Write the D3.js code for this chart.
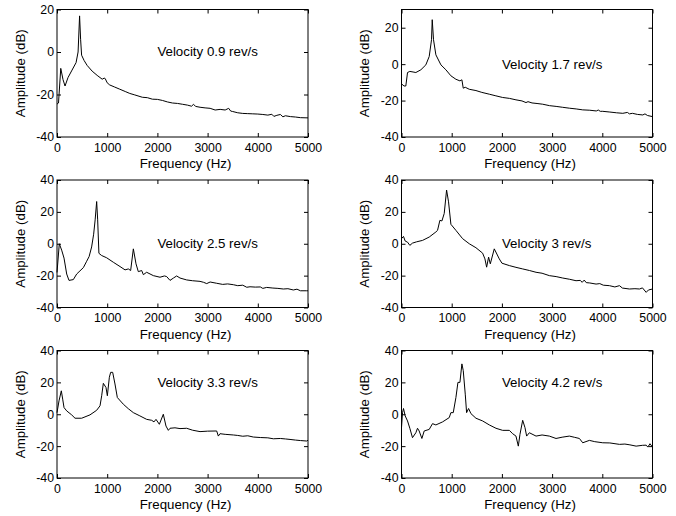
<!DOCTYPE html>
<html><head><meta charset="utf-8">
<script src="https://cdn.jsdelivr.net/npm/d3@7"></script>
<style>
html,body{margin:0;padding:0;background:#fff;}
svg{display:block;font-family:"Liberation Sans",Arial,Helvetica,sans-serif;}
</style></head>
<body><svg id="c" width="676" height="516"></svg>
<script>
// ---- data ----
const titles = ["Velocity 0.9 rev/s","Velocity 1.7 rev/s","Velocity 2.5 rev/s","Velocity 3 rev/s","Velocity 3.3 rev/s","Velocity 4.2 rev/s"];
const labelPosF = [2000, 2000, 2000, 2000, 2000, 2000];
const labelPosA = [0, 0, 0, 0, 20, 20];
const yDomains = [[-40,20],[-40,30],[-40,40],[-40,40],[-40,40],[-40,40]];
const yTicks = [[-40,-20,0,20],[-40,-20,0,20],[-40,-20,0,20,40],[-40,-20,0,20,40],[-40,-20,0,20,40],[-40,-20,0,20,40]];
const xTicks = [0,1000,2000,3000,4000,5000];
const xLabel = "Frequency (Hz)";
const yLabel = "Amplitude (dB)";

const f1 = [0,30,75,120,160,220,300,380,420,450,470,490,540,600,700,800,900,940,960,1000,1050,1150,1250,1370,1450,1550,1700,1800,1900,2000,2100,2200,2300,2400,2500,2600,2680,2720,2760,2850,2950,3050,3150,3250,3350,3420,3460,3500,3600,3700,3800,3900,4000,4100,4200,4280,4320,4380,4450,4500,4550,4650,4750,4850,5000];
const a1 = [-24.5,-24,-7.7,-13,-16,-12,-8.5,-5,0,17,6,-1.5,-4,-6.3,-9,-11,-12.8,-12.3,-12.5,-14.5,-15.5,-16.5,-17.5,-18.7,-19.5,-20.2,-21.3,-21.5,-22.2,-22.3,-22.8,-23.5,-24,-24.2,-24.6,-25,-25.5,-24.6,-25.6,-26,-26.3,-26.5,-27.3,-27,-27.3,-26.5,-27.8,-28,-28.6,-28.9,-29,-29.1,-29.2,-29.4,-29.7,-29.3,-30.3,-29.8,-29.4,-30.5,-30,-30.4,-30.6,-30.9,-31];

const f2 = [0,50,86,120,166,230,286,386,485,552,598,612,638,685,785,884,984,1084,1164,1203,1230,1270,1350,1483,1600,1749,1880,2015,2150,2280,2400,2480,2520,2600,2700,2812,2950,3080,3211,3350,3480,3610,3750,3880,3920,3960,4009,4150,4280,4408,4500,4540,4600,4700,4807,4850,4900,5000];
const a2 = [-10.8,-12,-12,-4.6,-4,-4.3,-4.6,-3.1,-0.4,4.2,13.4,24.4,13.4,5.1,-0.4,-3.1,-6.4,-8.3,-9.2,-8.6,-13.2,-12.7,-13.8,-14.5,-15.5,-16.5,-17.4,-18.3,-18.8,-19.6,-20.2,-21.1,-20.6,-21.3,-21.6,-22,-22.8,-23.2,-23.7,-24.2,-24.6,-25.1,-25.3,-25.7,-25.2,-25.9,-25.9,-26.3,-26.7,-27,-26.5,-27.3,-27,-27.6,-27.9,-27.3,-28.2,-28.8];

const f3 = [0,46,93,140,193,239,325,392,458,525,591,640,690,730,760,790,810,835,890,989,1122,1255,1355,1421,1467,1521,1574,1620,1687,1720,1786,1919,2052,2140,2185,2251,2320,2384,2450,2583,2700,2849,2920,2982,3050,3181,3300,3400,3513,3600,3700,3780,3845,3950,4050,4100,4177,4300,4400,4509,4600,4708,4780,4850,4973,5000];
const a3 = [-18,0,-4,-9,-19,-23,-22.5,-19,-17,-15,-11,-8,-2,6,15,26.5,15,-6,-7.4,-8.8,-11.6,-14.3,-16.4,-15.8,-16.8,-3.2,-12.6,-17.5,-16.8,-19.4,-17.9,-20,-21,-20.2,-20.6,-23,-21.5,-20.2,-21.5,-22.7,-23.2,-23.6,-24.2,-25,-24,-24.8,-25.5,-25.2,-25.7,-26.3,-26,-27.3,-27,-27.2,-27.1,-28,-27.4,-27.8,-28,-28.4,-28.2,-29,-28.5,-29.5,-29.5,-29.5];

const f4 = [0,40,73,120,166,219,300,419,552,685,718,765,805,851,898,937,984,1084,1217,1350,1483,1616,1662,1696,1735,1769,1848,1948,2001,2148,2280,2414,2550,2680,2800,2945,3080,3211,3350,3477,3560,3600,3640,3680,3750,3876,3950,4020,4142,4250,4342,4400,4541,4650,4741,4800,4874,4920,5000];
const a4 = [3.2,4.6,1.7,1,-1,0.4,1.2,2.1,4.2,7.4,8.4,14.7,14.3,19,33.7,26.3,12.2,8.4,3.2,0,-2.5,-5.9,-9.5,-14.7,-8.4,-12.6,-3.2,-9.5,-12.2,-13.7,-14.8,-15.8,-16.8,-17.9,-18.5,-20,-20.6,-21.5,-22.3,-23.2,-23,-24.2,-22.8,-24.4,-24.6,-25.3,-25,-26,-26.3,-27.1,-26.3,-27.8,-28.4,-28.2,-28.4,-27.7,-30.5,-29,-28.4];

const f5 = [0,40,86,113,140,193,292,359,491,657,790,857,890,923,976,1003,1043,1069,1109,1155,1202,1321,1420,1521,1650,1786,1886,1932,1972,2039,2118,2171,2218,2251,2350,2450,2583,2700,2849,3000,3181,3214,3247,3350,3513,3600,3700,3800,3911,4050,4200,4310,4450,4550,4642,4750,4850,4973,5000];
const a5 = [1,8.4,14.7,9.5,4.2,2.1,-0.4,-2.5,-2.5,-0.4,2.5,5.3,11.6,19.4,16.8,11.6,23.2,26.3,26.3,19,10.5,6.3,3.5,1,-1,-3.2,-3.8,-4.8,-3.2,-6.3,0,-7.4,-10.1,-8.8,-8.5,-9,-8.8,-10,-10.9,-10.6,-10.5,-13.7,-12.2,-12.6,-13,-13.3,-13.8,-13.5,-14.3,-14.6,-14.8,-15.4,-15.2,-15.5,-15.8,-16.2,-16.5,-16.8,-16.3];

const f6 = [0,20,40,73,120,166,219,286,319,352,406,452,552,618,685,818,951,984,1031,1084,1124,1164,1203,1230,1270,1297,1336,1383,1483,1616,1749,1882,2015,2148,2214,2280,2327,2360,2414,2460,2493,2547,2680,2800,2945,3078,3200,3344,3450,3544,3610,3743,3850,4009,4150,4342,4450,4550,4674,4800,4874,4907,4950,5000];
const a6 = [-8.4,1,3.6,-1,-4.2,-8.8,-14.7,-11.6,-8.8,-10.5,-15.2,-10.5,-9.5,-5.9,-6.7,-4.8,-2.1,1,1,10.5,20,20,31.6,27.4,12.6,1,3.6,0.4,-2.5,-4.2,-6.7,-8.8,-10.1,-10.1,-12.2,-13.7,-20,-12.6,-3.8,-8.4,-13.7,-11.6,-13.7,-13,-13.7,-15.2,-14.4,-13.7,-14.5,-15.2,-17.9,-16.4,-17.2,-17.9,-18,-18.9,-18.7,-19.2,-20,-19.5,-19.4,-20.6,-18.5,-20.6];

const freqs = [f1,f2,f3,f4,f5,f6];
const amps = [a1,a2,a3,a4,a5,a6];

// ---- layout ----
const colLeft = [57, 401.5];
const rowTop = [9.5, 180, 350.5];
const PW = 251, PH = 127.5;
const tickFont = 12.3, labelFont = 13.3;

const svg = d3.select("#c");

for (let i = 0; i < 6; i++) {
  const L = colLeft[i % 2], T = rowTop[Math.floor(i / 2)];
  const R = L + PW, B = T + PH;
  const x = d3.scaleLinear().domain([0, 5000]).range([L, R]);
  const y = d3.scaleLinear().domain(yDomains[i]).range([B, T]);
  const g = svg.append("g");

  // ticks & labels
  const ax = g.append("g").attr("transform", `translate(0,${B})`)
    .call(d3.axisBottom(x).tickValues(xTicks).tickFormat(d3.format("d")).tickSize(-4).tickPadding(6));
  const axT = g.append("g").attr("transform", `translate(0,${T})`)
    .call(d3.axisTop(x).tickValues(xTicks).tickFormat("").tickSize(-4));
  const ay = g.append("g").attr("transform", `translate(${L},0)`)
    .call(d3.axisLeft(y).tickValues(yTicks[i]).tickFormat(d3.format("d")).tickSize(-4).tickPadding(3));
  const ayR = g.append("g").attr("transform", `translate(${R},0)`)
    .call(d3.axisRight(y).tickValues(yTicks[i]).tickFormat("").tickSize(-4));
  [ax, axT, ay, ayR].forEach(a => {
    a.select(".domain").remove();
    a.selectAll("line").attr("stroke", "#000");
    a.selectAll("text").attr("fill", "#000").style("font-size", tickFont + "px")
      .style("font-family", '"Liberation Sans", Arial, sans-serif');
  });
  ay.selectAll("text").text(d => d < 0 ? "-" + Math.abs(d) : String(d));

  // box
  g.append("rect").attr("x", L).attr("y", T).attr("width", PW).attr("height", PH)
    .attr("fill", "none").attr("stroke", "#000").attr("stroke-width", 1);

  // curve
  const pts = freqs[i].map((f, k) => [f, amps[i][k]]);
  g.append("path").datum(pts)
    .attr("d", d3.line().x(d => x(d[0])).y(d => y(d[1])))
    .attr("fill", "none").attr("stroke", "#000").attr("stroke-width", 1);

  // annotation
  g.append("text").attr("x", x(labelPosF[i])).attr("y", y(labelPosA[i])).attr("dy", "0.33em")
    .style("font-size", labelFont + "px").attr("fill", "#000").text(titles[i]);

  // axis labels
  g.append("text").attr("x", (L + R) / 2 + 3).attr("y", B + 31)
    .attr("text-anchor", "middle").style("font-size", labelFont + "px").attr("fill", "#000").text(xLabel);
  g.append("text").attr("transform", `translate(${L - 37},${(T + B) / 2}) rotate(-90)`)
    .attr("dy", "0.35em").attr("text-anchor", "middle")
    .style("font-size", labelFont + "px").attr("fill", "#000").text(yLabel);
}
</script></body></html>
